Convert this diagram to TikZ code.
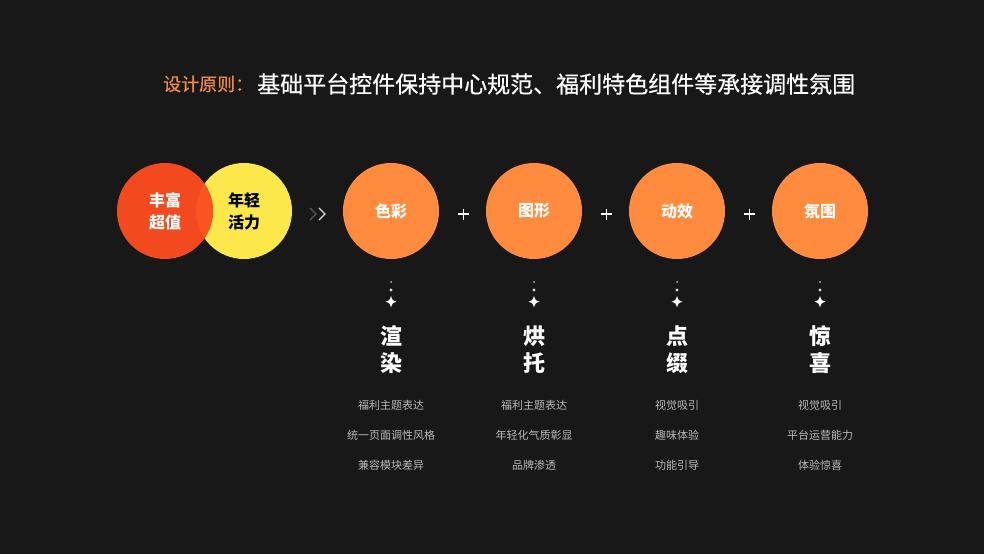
\documentclass[tikz,border=0pt]{standalone}
\usepackage{fontspec}
\setmainfont{Noto Sans CJK SC}
\newfontfamily\titlefont{Noto Sans CJK SC}[FakeBold=0.5]
\definecolor{bgdark}{HTML}{181818}
\definecolor{redball}{HTML}{F24A1E}
\definecolor{yellowball}{HTML}{FDE84B}
\definecolor{mixball}{HTML}{FB5420}
\definecolor{orangeball}{HTML}{FF8B3E}
\definecolor{titleorange}{HTML}{F28A3C}
\definecolor{softgrey}{HTML}{B8B8B8}
\usetikzlibrary{calc}

\begin{document}
\begin{tikzpicture}[x=1pt, y=-1pt,
    ball/.style={circle, minimum size=96pt, inner sep=0pt, align=center},
    keyword/.style={ball, fill=orangeball, text=white,
        font=\fontsize{16}{20}\selectfont\bfseries},
    sparkle/.style={fill=white},
    effect/.style={text=white, align=center,
        font=\fontsize{22}{27.6}\selectfont\bfseries},
    note/.style={text=softgrey, font=\fontsize{11}{13}\selectfont}]
    % Background
    \fill[bgdark] (0,0) rectangle (984,554);
    \useasboundingbox (0,0) rectangle (984,554);

    % Title
    \node[anchor=west, text=titleorange, inner sep=0pt,
        font=\fontsize{18}{22}\selectfont\titlefont] (rule) at (163,84) {设计原则：};
    \node[anchor=west, text=white, inner sep=0pt,
        font=\fontsize{23}{26}\selectfont\titlefont] (ruletext) at (257,84)
        {基础平台控件保持中心规范、福利特色组件等承接调性氛围};

    % Two overlapping circles
    \node[ball, fill=yellowball] (young) at (244,211) {};
    \node[ball, fill=redball] (rich) at (165,211) {};
    \begin{scope}
        \clip (young.center) circle (48);
        \fill[mixball] (rich.center) circle (48);
    \end{scope}
    \node[align=center, text=white, font=\fontsize{16}{22}\selectfont\bfseries]
        at (rich.center) {丰富\\超值};
    \node[align=center, text=black, font=\fontsize{16}{22}\selectfont\bfseries]
        at (young.center) {年轻\\活力};

    % Chevrons
    \coordinate (chev) at (318,214);
    \draw[line width=1.3pt, gray!70!black] ($(chev)+(-8,-6)$) -- ($(chev)+(-2,0)$) -- ($(chev)+(-8,6)$);
    \draw[line width=1.3pt, white!85!black] ($(chev)+(1,-6)$) -- ($(chev)+(7,0)$) -- ($(chev)+(1,6)$);

    % Four keyword circles with what lies beneath
    \foreach \i/\x/\word/\top/\bot/\na/\nb/\nc in {
        1/391/色彩/渲/染/福利主题表达/统一页面调性风格/兼容模块差异,
        2/534/图形/烘/托/福利主题表达/年轻化气质彰显/品牌渗透,
        3/677/动效/点/缀/视觉吸引/趣味体验/功能引导,
        4/820/氛围/惊/喜/视觉吸引/平台运营能力/体验惊喜} {
        \node[keyword] (k\i) at (\x,211) {\word};
        \fill[white!70!black] (\x,282) circle (1);
        \fill[white!85!black] (\x,290) circle (1.6);
        \fill[sparkle] (\x,296) .. controls (\x+1.4,300.3) .. (\x+5.5,301.7)
            .. controls (\x+1.4,303.1) .. (\x,307.4)
            .. controls (\x-1.4,303.1) .. (\x-5.5,301.7)
            .. controls (\x-1.4,300.3) .. (\x,296);
        \node[effect] (e\i) at (\x,349.5) {\top\\\bot};
        \node[note] (n\i a) at (\x,405) {\na};
        \node[note] (n\i b) at (\x,435) {\nb};
        \node[note] (n\i c) at (\x,465) {\nc};
    }

    % Plus signs
    \foreach \a/\b in {1/2, 2/3, 3/4} {
        \coordinate (p\a) at ($(k\a)!0.5!(k\b)+(1,3)$);
        \draw[line width=1.3pt, white] ($(p\a)+(-5.5,0)$) -- ($(p\a)+(5.5,0)$);
        \draw[line width=1.3pt, white] ($(p\a)+(0,-5.5)$) -- ($(p\a)+(0,5.5)$);
    }
\end{tikzpicture}
\end{document}
